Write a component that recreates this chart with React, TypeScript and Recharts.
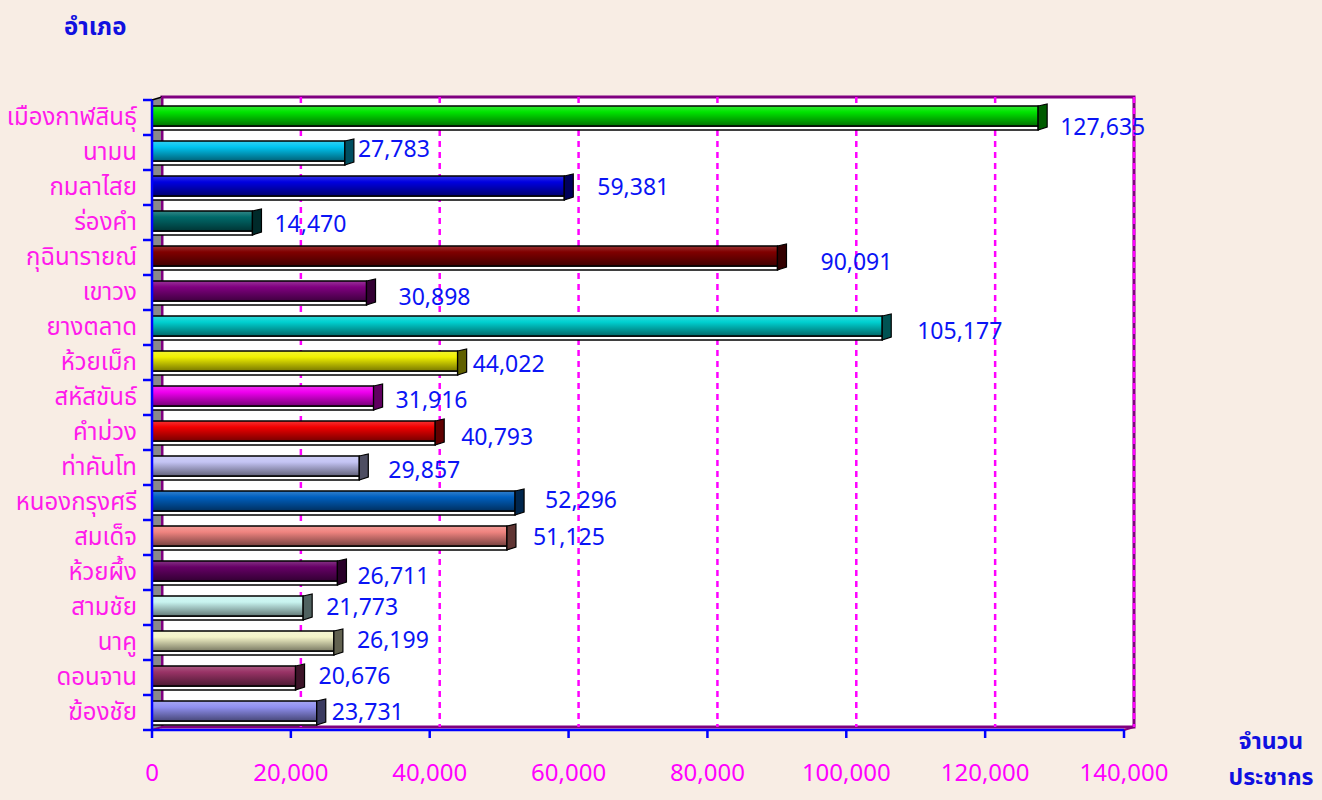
import { Bar, BarChart, CartesianGrid, LabelList, XAxis, YAxis } from "recharts";

const districts = [
  "เมืองกาฬสินธุ์",
  "นามน",
  "กมลาไสย",
  "ร่องคำ",
  "กุฉินารายณ์",
  "เขาวง",
  "ยางตลาด",
  "ห้วยเม็ก",
  "สหัสขันธ์",
  "คำม่วง",
  "ท่าคันโท",
  "หนองกรุงศรี",
  "สมเด็จ",
  "ห้วยผึ้ง",
  "สามชัย",
  "นาคู",
  "ดอนจาน",
  "ฆ้องชัย",
];

const population = [
  127635, 27783, 59381, 14470, 90091, 30898, 105177, 44022, 31916, 40793,
  29857, 52296, 51125, 26711, 21773, 26199, 20676, 23731,
];

const xTicks = [0, 20000, 40000, 60000, 80000, 100000, 120000, 140000];

const BAR_COLORS = [
  "#00e400", "#00c4f0", "#0000e0", "#006a6a", "#800000", "#800080",
  "#00d0d0", "#f0f000", "#f000f0", "#f00000", "#c4c4f4", "#0060c0",
  "#f08480", "#660066", "#c8f4f0", "#f4f4c8", "#993366", "#9090f0",
];

// label nudges (px) to match where the original put each number
const LABEL_DX = [14, 5, 25, 14, 35, 24, 27, 7, 14, 18, 21, 22, 18, 12, 15, 15, 15, 7];
const LABEL_DY = [10, -3, 0, 2, 5, 5, 4, 2, 3, 5, 3, -2, 0, 4, 0, -2, -1, 0];

const W = 1322;
const H = 800;
const PLOT_LEFT = 152;
const PLOT_RIGHT = 1124;
const PLOT_TOP = 100;
const PLOT_BOTTOM = 730;
const DX = 10;
const DY = 3;
const MAX = 140000;
const HALF_BAND = (PLOT_BOTTOM - PLOT_TOP) / districts.length / 2;
const FONT = "Tahoma, 'Noto Sans Thai', Loma, 'Noto Sans', sans-serif";

const chartData = districts.map((name, i) => ({ name, value: population[i] }));

function shade(hex: string, f: number) {
  const n = parseInt(hex.slice(1), 16);
  const c = [(n >> 16) & 255, (n >> 8) & 255, n & 255].map((v) =>
    f < 1 ? Math.round(v * f) : Math.round(v + (255 - v) * (f - 1))
  );
  return `rgb(${c[0]},${c[1]},${c[2]})`;
}

function Bar3D(props: any) {
  const { x, y, width, height, index } = props;
  const base = BAR_COLORS[index];
  const id = `bg${index}`;
  const faceH = height - 4;
  const x1 = x + width;
  return (
    <g>
      <defs>
        <linearGradient id={id} x1="0" y1="0" x2="0" y2="1">
          <stop offset="0" stopColor={shade(base, 1.2)} />
          <stop offset="0.3" stopColor={base} />
          <stop offset="1" stopColor={shade(base, 0.5)} />
        </linearGradient>
      </defs>
      <rect x={x} y={y + faceH} width={width} height={4} fill="#fff" stroke="#000" strokeWidth={1.5} />
      <rect x={x} y={y} width={width} height={faceH} fill={`url(#${id})`} stroke="#000" strokeWidth={1.5} />
      <polygon
        points={`${x1},${y} ${x1 + 9},${y - 2} ${x1 + 9},${y + height - 3} ${x1},${y + height}`}
        fill={shade(base, 0.4)}
        stroke="#000"
        strokeWidth={1.2}
      />
    </g>
  );
}

function ValueLabel(props: any) {
  const { x, y, width, height, index, value } = props;
  return (
    <text
      x={x + width + 8 + LABEL_DX[index]}
      y={y + height / 2 + LABEL_DY[index]}
      dominantBaseline="central"
      fontSize={23}
      fontFamily={FONT}
      fill="#0a14f5"
    >
      {Number(value).toLocaleString("en-US")}
    </text>
  );
}

function CategoryTick(props: any) {
  const { y, payload, index } = props;
  return (
    <g>
      <line x1={PLOT_LEFT - 9} x2={PLOT_LEFT} y1={y - HALF_BAND} y2={y - HALF_BAND} stroke="#0000ff" strokeWidth={2.5} />
      {index === districts.length - 1 && (
        <line x1={PLOT_LEFT - 9} x2={PLOT_LEFT} y1={y + HALF_BAND} y2={y + HALF_BAND} stroke="#0000ff" strokeWidth={2.5} />
      )}
      <text x={PLOT_LEFT - 15} y={y} textAnchor="end" dominantBaseline="central" fontSize={24} fontFamily={FONT} fill="#ff1aeb">
        {payload.value}
      </text>
    </g>
  );
}

function Walls() {
  return (
    <svg width={W} height={H} style={{ position: "absolute", left: 0, top: 0 }}>
      <rect
        x={PLOT_LEFT + DX}
        y={PLOT_TOP - DY}
        width={PLOT_RIGHT - PLOT_LEFT}
        height={PLOT_BOTTOM - PLOT_TOP}
        fill="#fff"
        stroke="#800080"
        strokeWidth={3}
      />
      <polygon
        points={`${PLOT_LEFT},${PLOT_TOP} ${PLOT_LEFT + DX},${PLOT_TOP - DY} ${PLOT_LEFT + DX},${PLOT_BOTTOM - DY} ${PLOT_LEFT},${PLOT_BOTTOM}`}
        fill="#8a8a8a"
      />
      <line x1={PLOT_LEFT} y1={PLOT_TOP} x2={PLOT_LEFT + DX} y2={PLOT_TOP - DY} stroke="#000" strokeWidth={1.5} />
      <line x1={PLOT_LEFT + DX} y1={PLOT_TOP - DY} x2={PLOT_LEFT + DX} y2={PLOT_BOTTOM - DY} stroke="#800080" strokeWidth={2} />
      <line x1={PLOT_LEFT} y1={PLOT_BOTTOM} x2={PLOT_LEFT + DX} y2={PLOT_BOTTOM - DY} stroke="#800080" strokeWidth={2} />
      <line x1={PLOT_RIGHT} y1={PLOT_BOTTOM} x2={PLOT_RIGHT + DX} y2={PLOT_BOTTOM - DY} stroke="#800080" strokeWidth={2} />
    </svg>
  );
}

export default function App() {
  return (
    <div
      style={{
        position: "absolute",
        left: 0,
        top: 0,
        width: W,
        height: H,
        background: "#f8ede4",
        fontFamily: FONT,
        overflow: "hidden",
      }}
    >
      <Walls />
      <div style={{ position: "absolute", left: 0, top: 0 }}>
        <BarChart
          width={W}
          height={H}
          data={chartData}
          layout="vertical"
          margin={{ top: PLOT_TOP, right: W - PLOT_RIGHT, left: 0, bottom: 0 }}
          barCategoryGap={0}
        >
          <CartesianGrid
            horizontal={false}
            stroke="#ff00ff"
            strokeWidth={2.5}
            strokeDasharray="6 5"
            y={PLOT_TOP - DY}
            height={PLOT_BOTTOM - PLOT_TOP}
            verticalCoordinatesGenerator={() =>
              xTicks
                .filter((t) => t > 0)
                .map((t) => PLOT_LEFT + (t / MAX) * (PLOT_RIGHT - PLOT_LEFT) + DX)
            }
          />
          <XAxis
            type="number"
            domain={[0, MAX]}
            ticks={xTicks}
            height={H - PLOT_BOTTOM}
            tickSize={8}
            tickMargin={26}
            tickFormatter={(v: number) => v.toLocaleString("en-US")}
            axisLine={{ stroke: "#0000ff", strokeWidth: 2.5 }}
            tickLine={{ stroke: "#0000ff", strokeWidth: 2.5 }}
            tick={{ fontSize: 24, fill: "#ff00ff", fontFamily: FONT }}
            interval={0}
          />
          <YAxis
            type="category"
            dataKey="name"
            width={PLOT_LEFT}
            tickLine={false}
            axisLine={{ stroke: "#0000ff", strokeWidth: 2.5 }}
            tick={<CategoryTick />}
            interval={0}
          />
          <Bar dataKey="value" barSize={24} shape={<Bar3D />} isAnimationActive={false}>
            <LabelList dataKey="value" content={<ValueLabel />} />
          </Bar>
        </BarChart>
      </div>
      <div style={{ position: "absolute", left: 64, top: 10, fontSize: 24, fontWeight: 700, color: "#1010e0" }}>อำเภอ</div>
      <div
        style={{
          position: "absolute",
          left: 1216,
          top: 724,
          width: 110,
          textAlign: "center",
          fontSize: 23,
          fontWeight: 700,
          color: "#1010e0",
          lineHeight: "36px",
        }}
      >
        จำนวน
        <br />
        ประชากร
      </div>
    </div>
  );
}
